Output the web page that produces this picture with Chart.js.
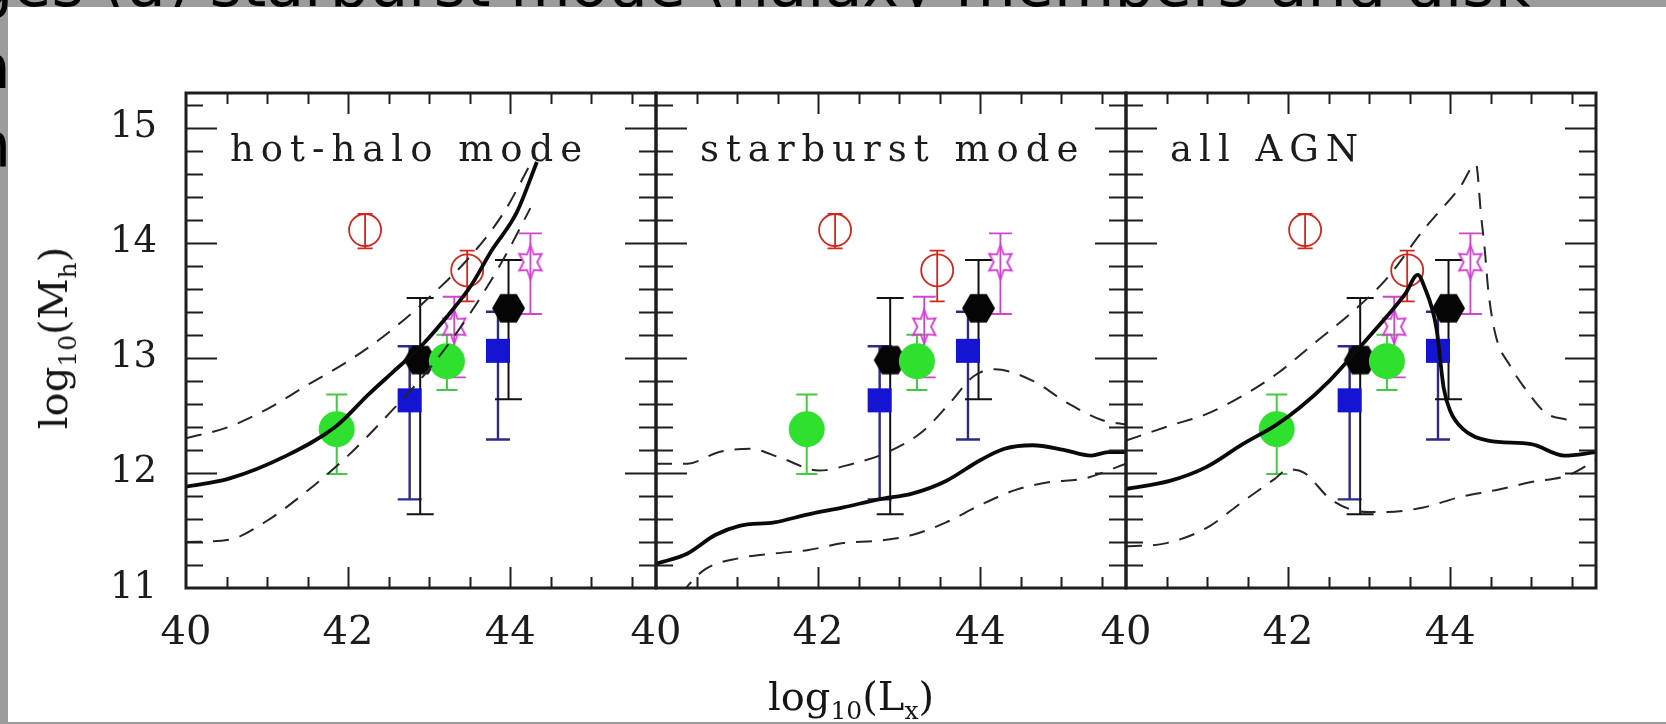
<!DOCTYPE html>
<html lang="en">
<head>
<meta charset="utf-8">
<title>log10(Mh) vs log10(Lx)</title>
<script src="https://cdn.jsdelivr.net/npm/chart.js@4.4.1/dist/chart.umd.min.js"></script>
<style>
  html, body { margin: 0; padding: 0; }
  body { position: relative; width: 1666px; height: 724px; overflow: hidden; background: #9c9c9c; font-family: 'DejaVu Sans', sans-serif; }
  .behind { position: absolute; color: #000; font-size: 62px; line-height: 62px; white-space: nowrap; }
  #sheet { position: absolute; left: 8px; top: 7px; width: 1658px; height: 715px; background: #fff; }
  canvas { position: absolute; top: 0; }
  .axis-title { position: absolute; font-family: 'DejaVu Serif', serif; font-size: 40px; line-height: 40px; color: #151515; white-space: nowrap; }
  .axis-title sub { font-size: 25px; line-height: 0; vertical-align: -9px; }
  #ytitle { left: 53px; top: 338px; transform: translate(-50%, -50%) rotate(-90deg); }
  #xtitle { left: 851px; top: 676px; transform: translateX(-50%); }
</style>
</head>
<body>
<div class="behind" style="left:-26px; top:-46px;">ges (a) starburst mode (halaxy members and disk</div>
<div class="behind" style="right:1655px; top:36px;">a</div>
<div class="behind" style="right:1655px; top:114px;">h</div>
<div id="sheet"></div>
<canvas id="panel-hot" width="706" height="724" style="left:0"></canvas>
<canvas id="panel-starburst" width="570" height="724" style="left:606px"></canvas>
<canvas id="panel-all" width="570" height="724" style="left:1076px"></canvas>
<div class="axis-title" id="ytitle">log<sub>10</sub>(M<sub>h</sub>)</div>
<div class="axis-title" id="xtitle">log<sub>10</sub>(L<sub>x</sub>)</div>
<script>
// axis ranges and tick labels
var xMin = 40;
var xMax = 45.8;
var yMin = 11;
var yMax = 15.3;
var xTickValues = [40, 42, 44];
var yTickValues = [11, 12, 13, 14, 15];
var panelTitles = ['hot-halo mode', 'starburst mode', 'all AGN'];

// observed points, identical in the three panels
var redX = [42.21, 43.47];
var redY = [14.11, 13.76];
var redLo = [13.95, 13.49];
var redHi = [14.25, 13.93];

var starX = [43.31, 44.25];
var starY = [13.27, 13.83];
var starLo = [12.83, 13.38];
var starHi = [13.53, 14.08];

var greenX = [41.86, 43.22];
var greenY = [12.38, 12.97];
var greenLo = [11.99, 12.72];
var greenHi = [12.68, 13.20];

var blueX = [42.76, 43.85];
var blueY = [12.63, 13.06];
var blueLo = [11.77, 12.29];
var blueHi = [13.10, 13.40];

var blackX = [42.89, 43.98];
var blackY = [12.98, 13.43];
var blackLo = [11.64, 12.64];
var blackHi = [13.52, 13.85];

// model curves: hot-halo mode
var hotSolidX = [40, 40.53, 41.24, 41.86, 42.25, 42.56, 42.9, 43.27, 43.52, 43.77, 44.08, 44.33];
var hotSolidY = [11.88, 11.95, 12.15, 12.41, 12.68, 12.88, 13.1, 13.4, 13.63, 13.93, 14.26, 14.7];
var hotUpperX = [40, 40.53, 40.99, 41.49, 42.0, 42.5, 43.01, 43.52, 43.92, 44.3];
var hotUpperY = [12.30, 12.40, 12.55, 12.76, 12.97, 13.22, 13.53, 13.89, 14.26, 14.75];
var hotLowerX = [40, 40.53, 40.99, 41.49, 42.0, 42.5, 43.01, 43.52, 43.92, 44.25];
var hotLowerY = [11.40, 11.42, 11.58, 11.84, 12.15, 12.51, 12.91, 13.40, 13.86, 14.3];

// starburst mode
var sbSolidX = [40, 40.39, 40.73, 41.03, 41.46, 41.88, 42.31, 42.75, 43.16, 43.58, 44.0, 44.3, 44.65, 45.03, 45.37, 45.58, 45.8];
var sbSolidY = [11.21, 11.30, 11.46, 11.54, 11.57, 11.64, 11.70, 11.77, 11.82, 11.93, 12.11, 12.21, 12.24, 12.20, 12.15, 12.18, 12.18];
var sbUpperX = [40, 40.39, 40.77, 41.16, 41.54, 42.01, 42.43, 42.86, 43.29, 43.63, 43.92, 44.18, 44.65, 45.07, 45.5, 45.8];
var sbUpperY = [12.08, 12.08, 12.18, 12.21, 12.13, 12.02, 12.08, 12.18, 12.36, 12.61, 12.84, 12.90, 12.80, 12.61, 12.46, 12.42];
var sbLowerX = [40.3, 40.6, 41.03, 41.46, 41.88, 42.31, 42.73, 43.16, 43.58, 44.0, 44.43, 44.86, 45.28, 45.8];
var sbLowerY = [10.95, 11.16, 11.26, 11.30, 11.33, 11.39, 11.41, 11.46, 11.57, 11.72, 11.85, 11.92, 11.95, 12.08];

// all AGN
var allSolidX = [40, 40.54, 40.99, 41.44, 41.84, 42.15, 42.51, 42.87, 43.22, 43.45, 43.6, 43.68, 43.83, 43.92, 44.0, 44.16, 44.47, 45.0, 45.41, 45.8];
var allSolidY = [11.86, 11.93, 12.05, 12.25, 12.41, 12.57, 12.80, 13.08, 13.36, 13.56, 13.72, 13.62, 13.26, 12.74, 12.54, 12.38, 12.28, 12.25, 12.15, 12.18];
var allUpperX = [40, 40.54, 40.99, 41.44, 41.88, 42.33, 42.78, 43.22, 43.67, 44.12, 44.32, 44.38, 44.43, 44.47, 44.56, 44.74, 44.96, 45.18, 45.45];
var allUpperY = [12.28, 12.41, 12.51, 12.67, 12.87, 13.13, 13.39, 13.69, 14.11, 14.48, 14.68, 14.25, 13.92, 13.59, 13.2, 12.93, 12.70, 12.52, 12.46];
var allLowerX = [40, 40.5, 40.99, 41.44, 41.84, 42.0, 42.2, 42.51, 42.78, 43.0, 43.22, 43.67, 44.12, 44.56, 45.0, 45.46, 45.8];
var allLowerY = [11.36, 11.39, 11.52, 11.75, 11.95, 12.03, 12.0, 11.78, 11.68, 11.66, 11.66, 11.70, 11.79, 11.85, 11.92, 11.98, 12.11];

function pairs(xs, ys) {
  return xs.map(function (x, i) {
    return { x: x, y: ys[i] };
  });
}

function makeHexagon(r, color) {
  var c = document.createElement('canvas');
  c.width = Math.ceil(2 * r + 2);
  c.height = Math.ceil(Math.sqrt(3) * r + 2);
  var g = c.getContext('2d');
  g.fillStyle = color;
  g.beginPath();
  for (var i = 0; i < 6; i++) {
    var a = i * Math.PI / 3;
    var px = c.width / 2 + r * Math.cos(a);
    var py = c.height / 2 + r * Math.sin(a);
    if (i === 0) {
      g.moveTo(px, py);
    } else {
      g.lineTo(px, py);
    }
  }
  g.closePath();
  g.fill();
  return c;
}

function makeStar(rx, ry, color) {
  var c = document.createElement('canvas');
  c.width = Math.ceil(2 * rx + 4);
  c.height = Math.ceil(2 * ry + 4);
  var g = c.getContext('2d');
  g.strokeStyle = color;
  g.lineWidth = 1.8;
  g.beginPath();
  for (var i = 0; i < 12; i++) {
    var a = -Math.PI / 2 + i * Math.PI / 6;
    var k = i % 2 === 0 ? 1 : 0.52;
    var px = c.width / 2 + rx * k * Math.cos(a);
    var py = c.height / 2 + ry * k * Math.sin(a);
    if (i === 0) {
      g.moveTo(px, py);
    } else {
      g.lineTo(px, py);
    }
  }
  g.closePath();
  g.stroke();
  return c;
}

var hexImage = makeHexagon(16.5, '#050505');
var starImage = makeStar(13, 17, '#d23cd2');

var pointGroups = [
  { x: blueX, y: blueY, lo: blueLo, hi: blueHi, bar: '#2c2c82', barWidth: 2.4, cap: 24 },
  { x: blackX, y: blackY, lo: blackLo, hi: blackHi, bar: '#111111', barWidth: 2, cap: 27 },
  { x: greenX, y: greenY, lo: greenLo, hi: greenHi, bar: '#46c846', barWidth: 2, cap: 21 },
  { x: starX, y: starY, lo: starLo, hi: starHi, bar: '#cf45cf', barWidth: 1.8, cap: 23 },
  { x: redX, y: redY, lo: redLo, hi: redHi, bar: '#d0281e', barWidth: 1.8, cap: 15 }
];

var errorBarPlugin = {
  id: 'errorBars',
  beforeDatasetsDraw: function (chart) {
    var ctx = chart.ctx;
    var a = chart.chartArea;
    var xs = chart.scales.x;
    var ys = chart.scales.y;
    ctx.save();
    ctx.beginPath();
    ctx.rect(a.left, a.top, a.right - a.left, a.bottom - a.top);
    ctx.clip();
    pointGroups.forEach(function (g) {
      ctx.strokeStyle = g.bar;
      ctx.lineWidth = g.barWidth;
      g.x.forEach(function (xv, i) {
        var px = xs.getPixelForValue(xv);
        var top = ys.getPixelForValue(g.hi[i]);
        var bot = ys.getPixelForValue(g.lo[i]);
        ctx.beginPath();
        ctx.moveTo(px, top);
        ctx.lineTo(px, bot);
        ctx.moveTo(px - g.cap / 2, top);
        ctx.lineTo(px + g.cap / 2, top);
        ctx.moveTo(px - g.cap / 2, bot);
        ctx.lineTo(px + g.cap / 2, bot);
        ctx.stroke();
      });
    });
    ctx.restore();
  }
};

// box with inward ticks on all four sides, plus the panel label
var framePlugin = {
  id: 'frame',
  afterDatasetsDraw: function (chart, args, opts) {
    var ctx = chart.ctx;
    var a = chart.chartArea;
    var xs = chart.scales.x;
    var ys = chart.scales.y;
    ctx.save();
    ctx.strokeStyle = '#1e1e1e';
    ctx.lineWidth = 2;
    ctx.beginPath();
    for (var i = 1; xMin + i * 0.5 < xMax; i++) {
      var xv = xMin + i * 0.5;
      var len = i % 4 === 0 ? 21 : 11;
      var px = Math.round(xs.getPixelForValue(xv)) + 0.5;
      ctx.moveTo(px, a.top);
      ctx.lineTo(px, a.top + len);
      ctx.moveTo(px, a.bottom);
      ctx.lineTo(px, a.bottom - len);
    }
    for (var j = 1; yMin + j * 0.2 < yMax; j++) {
      var yv = yMin + j * 0.2;
      var ylen = j % 5 === 0 ? 31 : 17;
      var py = Math.round(ys.getPixelForValue(yv)) + 0.5;
      ctx.moveTo(a.left, py);
      ctx.lineTo(a.left + ylen, py);
      ctx.moveTo(a.right, py);
      ctx.lineTo(a.right - ylen, py);
    }
    ctx.stroke();
    ctx.lineWidth = 3;
    ctx.strokeRect(a.left, a.top, a.right - a.left, a.bottom - a.top);

    ctx.fillStyle = '#1c1c1c';
    ctx.font = '37px "DejaVu Serif"';
    ctx.letterSpacing = '7px';
    ctx.textBaseline = 'alphabetic';
    ctx.textAlign = 'left';
    ctx.fillText(opts.title, a.left + 44, 161);
    ctx.restore();
  }
};

function curveDataset(xs, ys, dashed) {
  return {
    type: 'line',
    data: pairs(xs, ys),
    borderColor: dashed ? '#262626' : '#0a0a0a',
    borderWidth: dashed ? 2 : 3.8,
    borderDash: dashed ? [16, 11] : [],
    pointRadius: 0,
    fill: false,
    cubicInterpolationMode: 'monotone',
    order: 0
  };
}

function pointDatasets() {
  return [
    {
      type: 'scatter', data: pairs(greenX, greenY), pointStyle: 'circle', pointRadius: 18,
      pointBackgroundColor: '#2fe02f', pointBorderColor: '#2fe02f', pointBorderWidth: 0, order: 1
    },
    {
      type: 'scatter', data: pairs(blueX, blueY), pointStyle: 'rect', pointRadius: 17,
      pointBackgroundColor: '#1414d2', pointBorderColor: '#1414d2', pointBorderWidth: 0, order: 1
    },
    {
      type: 'scatter', data: pairs(blackX, blackY), pointStyle: hexImage, pointRadius: 16, order: 1
    },
    {
      type: 'scatter', data: pairs(starX, starY), pointStyle: starImage, pointRadius: 16, order: 1
    },
    {
      type: 'scatter', data: pairs(redX, redY), pointStyle: 'circle', pointRadius: 16,
      pointBackgroundColor: 'rgba(0,0,0,0)', pointBorderColor: '#d0281e', pointBorderWidth: 1.8, order: 1
    }
  ];
}

function makePanel(canvasId, index, curves, yAxisWidth, showYLabels) {
  var datasets = curves.map(function (c) {
    return curveDataset(c[0], c[1], c[2]);
  }).concat(pointDatasets());

  new Chart(document.getElementById(canvasId), {
    type: 'scatter',
    data: { datasets: datasets },
    plugins: [errorBarPlugin, framePlugin],
    options: {
      responsive: false,
      animation: false,
      events: [],
      layout: { padding: { left: 0, right: 50, top: 93, bottom: 0 } },
      plugins: {
        legend: { display: false },
        tooltip: { enabled: false },
        frame: { title: panelTitles[index] }
      },
      scales: {
        x: {
          type: 'linear',
          min: xMin,
          max: xMax,
          grid: { display: false, drawTicks: false },
          border: { display: false },
          afterBuildTicks: function (scale) {
            scale.ticks = xTickValues.map(function (v) {
              return { value: v };
            });
          },
          afterFit: function (scale) {
            scale.height = 136;
          },
          ticks: {
            autoSkip: false,
            maxRotation: 0,
            padding: 22,
            color: '#1c1c1c',
            font: { family: 'DejaVu Serif', size: 40 }
          }
        },
        y: {
          type: 'linear',
          min: yMin,
          max: yMax,
          grid: { display: false, drawTicks: false },
          border: { display: false },
          afterBuildTicks: function (scale) {
            scale.ticks = yTickValues.map(function (v) {
              return { value: v };
            });
          },
          afterFit: function (scale) {
            scale.width = yAxisWidth;
          },
          ticks: {
            display: showYLabels,
            autoSkip: false,
            padding: 29,
            color: '#1c1c1c',
            font: { family: 'DejaVu Serif', size: 37 }
          }
        }
      }
    }
  });
}

makePanel('panel-hot', 0, [
  [hotSolidX, hotSolidY, false],
  [hotUpperX, hotUpperY, true],
  [hotLowerX, hotLowerY, true]
], 186, true);

makePanel('panel-starburst', 1, [
  [sbSolidX, sbSolidY, false],
  [sbUpperX, sbUpperY, true],
  [sbLowerX, sbLowerY, true]
], 50, false);

makePanel('panel-all', 2, [
  [allSolidX, allSolidY, false],
  [allUpperX, allUpperY, true],
  [allLowerX, allLowerY, true]
], 50, false);
</script>
</body>
</html>
